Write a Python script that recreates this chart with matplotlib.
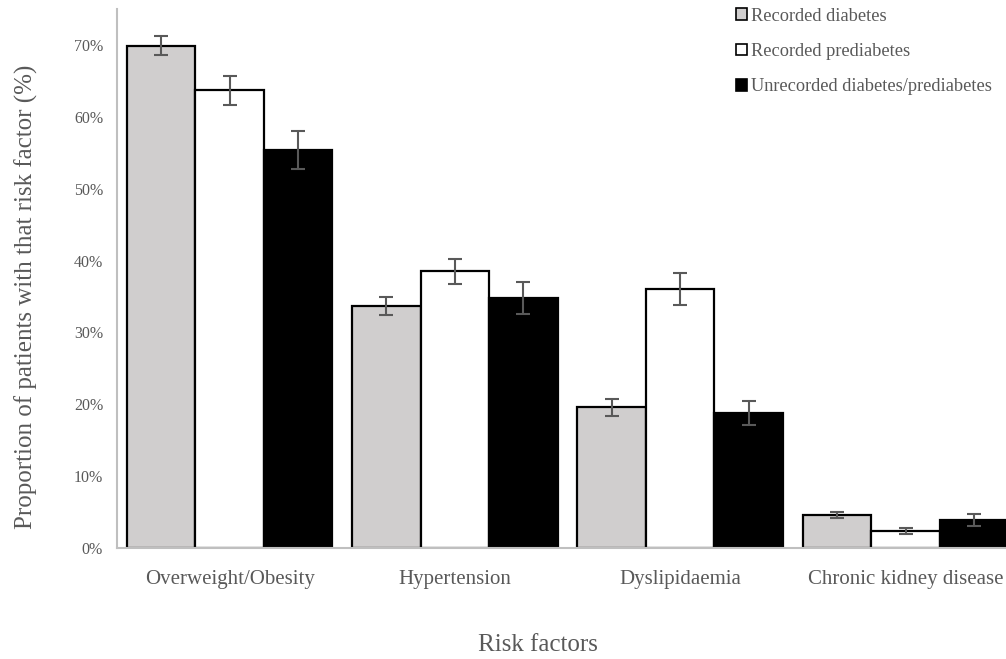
import numpy as np
import matplotlib
matplotlib.use("Agg")
import matplotlib.pyplot as plt
from matplotlib.patches import Patch

categories = ["Overweight/Obesity", "Hypertension", "Dyslipidaemia", "Chronic kidney disease"]
series = ["Recorded diabetes", "Recorded prediabetes", "Unrecorded diabetes/prediabetes"]
recorded_diabetes = [69.9, 33.7, 19.6, 4.6]
recorded_diabetes_err = [1.3, 1.25, 1.2, 0.4]
recorded_prediabetes = [63.7, 38.5, 36.0, 2.4]
recorded_prediabetes_err = [2.0, 1.7, 2.2, 0.4]
unrecorded = [55.4, 34.8, 18.8, 3.9]
unrecorded_err = [2.6, 2.2, 1.7, 0.8]
yticks = [0, 10, 20, 30, 40, 50, 60, 70]

plt.rcParams["font.family"] = ["Liberation Serif", "DejaVu Serif"]
text_color = "#595959"

fig = plt.figure(figsize=(10.06, 6.59), dpi=100)
ax = fig.add_axes([117 / 1006, 111 / 659, 889 / 1006, 539 / 659])

x = np.arange(len(categories))
w = 0.304
colors = ["#d0cece", "white", "black"]
vals = [recorded_diabetes, recorded_prediabetes, unrecorded]
errs = [recorded_diabetes_err, recorded_prediabetes_err, unrecorded_err]
for i, (v, e, c) in enumerate(zip(vals, errs, colors)):
    ax.bar(x + (i - 1) * w, np.array(v) / 100, w, color=c, edgecolor="black",
           linewidth=1.6, zorder=2)
    ax.errorbar(x + (i - 1) * w, np.array(v) / 100, yerr=np.array(e) / 100,
                fmt="none", ecolor="#595959", elinewidth=1.5, capsize=5,
                capthick=1.5, zorder=3)

ax.set_xlim(-0.5, 3.446)
ax.set_ylim(0, 0.75)
ax.set_yticks([t / 100 for t in yticks])
ax.set_yticklabels([f"{t}%" for t in yticks], fontsize=11.5, color=text_color)
ax.set_xticks(x)
ax.set_xticklabels(categories, fontsize=15, color=text_color)
ax.tick_params(axis="y", length=0, pad=10)
ax.tick_params(axis="x", length=0, pad=16)
for s in ["top", "right"]:
    ax.spines[s].set_visible(False)
for s in ["left", "bottom"]:
    ax.spines[s].set_color("#bfbfbf")
    ax.spines[s].set_linewidth(1.5)

ax.set_ylabel("Proportion of patients with that risk factor (%)", fontsize=18, color=text_color)
ax.yaxis.set_label_coords(-0.089, 0.466)
ax.set_xlabel("Risk factors", fontsize=18, color=text_color, va="center")
ax.xaxis.set_label_coords(0.4736, -0.180)

handles = [Patch(facecolor=c, edgecolor="black", linewidth=1.2) for c in colors]
fig.legend(handles, series, loc="upper left", bbox_to_anchor=(723 / 1006, 1.008),
           frameon=False, fontsize=13.2, labelcolor=text_color,
           handlelength=0.62, handleheight=0.62, handletextpad=0.2,
           labelspacing=1.0, borderpad=0.2)

fig.savefig("out.png", dpi=100)
